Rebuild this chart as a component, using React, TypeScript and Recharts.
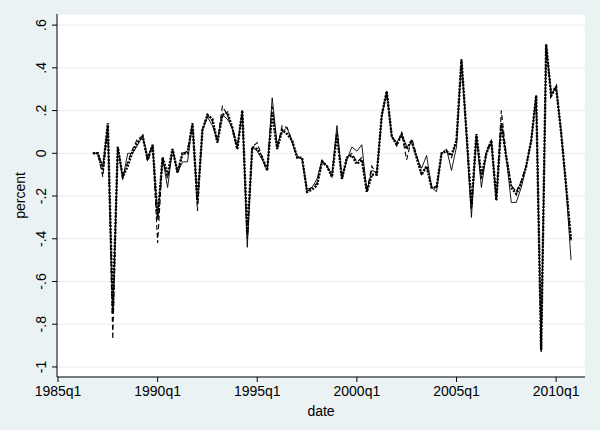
import { CartesianGrid, Line, LineChart, XAxis, YAxis } from "recharts";

// Quarterly series, first observation 1986q4 (quarter index 7 counted from 1985q1).
const FIRST_QUARTER = 7;

const SOLID = [
  0.0, 0.0, -0.06, 0.13, -0.75, 0.03, -0.12, 0.0, 0.0, 0.04,
  0.08, -0.02, 0.04, -0.3, -0.02, -0.16, 0.02, -0.09, -0.04, -0.04,
  0.14, -0.22, 0.11, 0.17, 0.13, 0.06, 0.18, 0.16, 0.12, 0.03,
  0.2, -0.44, 0.03, 0.01, -0.03, -0.08, 0.26, 0.04, 0.1, 0.12,
  0.05, -0.01, -0.03, -0.18, -0.16, -0.12, -0.03, -0.06, -0.1, 0.13,
  -0.12, -0.03, 0.03, 0.01, 0.04, -0.18, -0.08, -0.09, 0.17, 0.29,
  0.08, 0.05, 0.09, 0.03, 0.05, -0.02, -0.07, -0.01, -0.16, -0.18,
  0.0, 0.02, -0.08, 0.03, 0.44, 0.08, -0.3, 0.08, -0.16, 0.0,
  0.05, -0.22, 0.14, -0.02, -0.23, -0.23, -0.16, -0.06, 0.06, 0.27,
  -0.93, 0.51, 0.27, 0.31, 0.1, -0.16, -0.5,
];

const DASHED = [
  0.0, 0.0, -0.11, 0.13, -0.87, 0.03, -0.11, -0.04, 0.02, 0.07,
  0.08, -0.04, 0.04, -0.42, -0.02, -0.12, 0.02, -0.09, 0.0, 0.01,
  0.14, -0.27, 0.11, 0.18, 0.15, 0.05, 0.22, 0.18, 0.11, 0.02,
  0.2, -0.4, 0.03, 0.05, -0.02, -0.08, 0.22, 0.02, 0.13, 0.12,
  0.06, -0.02, -0.02, -0.17, -0.16, -0.14, -0.04, -0.06, -0.11, 0.1,
  -0.12, -0.02, 0.0, -0.04, -0.02, -0.18, -0.06, -0.1, 0.18, 0.28,
  0.08, 0.04, 0.09, -0.03, 0.07, -0.01, -0.1, -0.06, -0.16, -0.16,
  0.0, 0.01, -0.02, 0.06, 0.44, 0.1, -0.26, 0.09, -0.12, 0.01,
  0.06, -0.21, 0.2, -0.01, -0.15, -0.18, -0.13, -0.06, 0.06, 0.27,
  -0.92, 0.5, 0.29, 0.31, 0.1, -0.15, -0.41,
];

const DOTTED = [
  0.0, 0.0, -0.08, 0.14, -0.75, 0.03, -0.11, -0.06, 0.01, 0.05,
  0.08, -0.03, 0.04, -0.31, -0.02, -0.1, 0.02, -0.09, 0.0, 0.0,
  0.14, -0.23, 0.11, 0.18, 0.16, 0.05, 0.18, 0.19, 0.12, 0.02,
  0.2, -0.38, 0.03, 0.02, -0.02, -0.08, 0.19, 0.02, 0.11, 0.09,
  0.06, -0.02, -0.02, -0.18, -0.17, -0.15, -0.04, -0.06, -0.11, 0.09,
  -0.12, -0.02, -0.01, -0.05, -0.03, -0.18, -0.1, -0.1, 0.18, 0.29,
  0.08, 0.04, 0.09, 0.02, 0.06, -0.02, -0.1, -0.06, -0.16, -0.16,
  0.0, 0.01, -0.01, 0.06, 0.44, 0.1, -0.25, 0.09, -0.11, 0.0,
  0.06, -0.22, 0.14, -0.02, -0.16, -0.19, -0.14, -0.06, 0.06, 0.27,
  -0.92, 0.51, 0.27, 0.31, 0.1, -0.15, -0.41,
];

const X_TICKS = [0, 20, 40, 60, 80, 100];
const X_LABELS = ["1985q1", "1990q1", "1995q1", "2000q1", "2005q1", "2010q1"];

const Y_TICKS = [-1, -0.8, -0.6, -0.4, -0.2, 0, 0.2, 0.4, 0.6];
const Y_LABELS = ["-1", "-.8", "-.6", "-.4", "-.2", "0", ".2", ".4", ".6"];

const FONT = "'Liberation Sans', Arial, Helvetica, sans-serif";
const BG = "#eaf2f3";

const rows = SOLID.map((v, i) => ({
  q: FIRST_QUARTER + i,
  solid: v,
  dashed: DASHED[i],
  dotted: DOTTED[i],
}));

function YTick(props: any) {
  const { x, y, index } = props;
  return (
    <text
      x={x}
      y={y}
      transform={`rotate(-90 ${x} ${y})`}
      textAnchor="middle"
      fontSize={14}
      fontFamily={FONT}
      fill="#000"
    >
      {Y_LABELS[index]}
    </text>
  );
}

export default function App() {
  return (
    <div
      style={{
        position: "fixed",
        left: 0,
        top: 0,
        width: 600,
        height: 430,
        background: BG,
      }}
    >
      <LineChart
        width={600}
        height={430}
        data={rows}
        margin={{ top: 14, right: 15, bottom: 0, left: 0 }}
      >
        <CartesianGrid
          vertical={false}
          fill="#ffffff"
          stroke="#e6edef"
          strokeWidth={1}
        />
        <XAxis
          type="number"
          dataKey="q"
          domain={[-0.2, 105.8]}
          allowDataOverflow
          ticks={X_TICKS}
          tickFormatter={(v) => X_LABELS[X_TICKS.indexOf(v)] ?? ""}
          height={53}
          tickSize={5}
          tickMargin={4}
          stroke="#000"
          tick={{ fontSize: 14, fontFamily: FONT, fill: "#000" }}
          label={{
            value: "date",
            position: "insideBottom",
            offset: 14,
            style: { fontSize: 14, fontFamily: FONT, fill: "#000" },
          }}
        />
        <YAxis
          type="number"
          domain={[-1.047, 0.652]}
          allowDataOverflow
          ticks={Y_TICKS}
          width={57}
          tickSize={5}
          tickMargin={6}
          stroke="#000"
          tick={<YTick />}
          label={{
            value: "percent",
            angle: -90,
            position: "center",
            dx: -8,
            style: { fontSize: 14, fontFamily: FONT, fill: "#000" },
          }}
        />
        <Line
          type="linear"
          dataKey="solid"
          stroke="#000"
          strokeWidth={0.9}
          dot={false}
          isAnimationActive={false}
        />
        <Line
          type="linear"
          dataKey="dashed"
          stroke="#000"
          strokeWidth={1.1}
          strokeDasharray="5 3"
          dot={false}
          isAnimationActive={false}
        />
        <Line
          type="linear"
          dataKey="dotted"
          stroke="#000"
          strokeWidth={2.4}
          strokeDasharray="2 1.3"
          dot={false}
          isAnimationActive={false}
        />
      </LineChart>
    </div>
  );
}
